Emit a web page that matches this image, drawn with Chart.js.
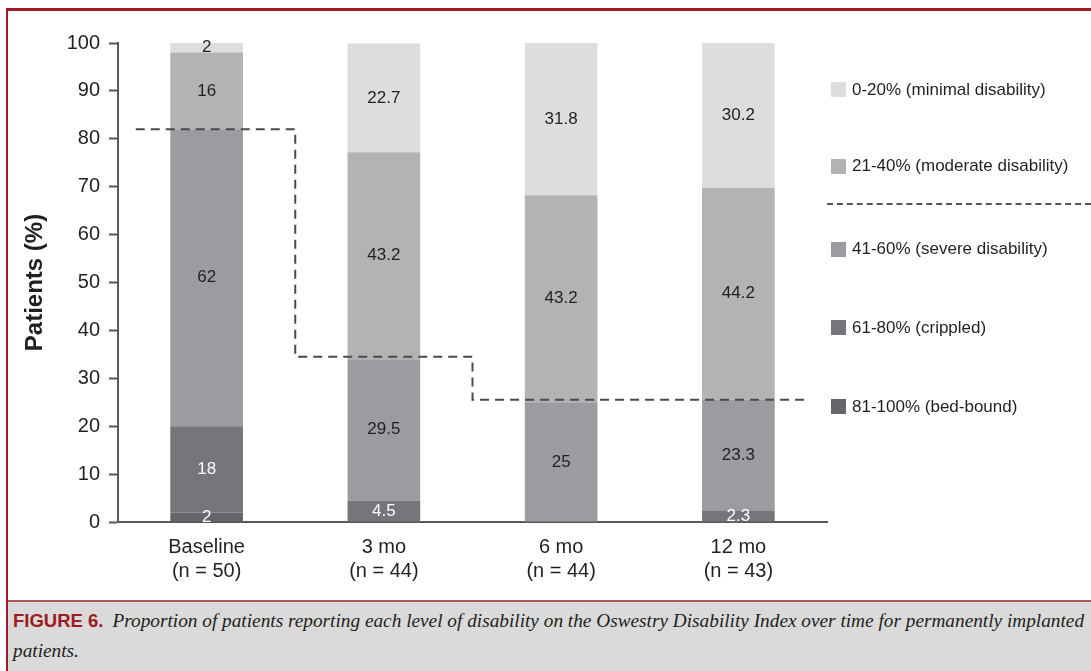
<!DOCTYPE html>
<html>
<head>
<meta charset="utf-8">
<title>Figure 6</title>
<script src="https://cdn.jsdelivr.net/npm/chart.js@4.4.0/dist/chart.umd.min.js"></script>
<style>
  body { margin: 0; background: #fff; }
  #fig { position: relative; width: 1091px; height: 671px; overflow: hidden; background: #fff; }
  #chart { position: absolute; left: 0; top: 0; }
  .rule-top { position: absolute; left: 6px; right: 0; top: 8px; height: 3px; background: #9d1c22; }
  .rule-left { position: absolute; left: 6px; top: 8px; bottom: 0; width: 2px; background: #9d1c22; }
  .legend-item { position: absolute; left: 831px; height: 15px; display: flex; align-items: center; white-space: nowrap;
    font-family: 'Liberation Sans', Arial, sans-serif; font-size: 17px; color: #231f20; }
  .legend-item .swatch { width: 15px; height: 15px; margin-right: 6px; flex: none; }
  .legend-sep { position: absolute; left: 827px; right: 0; top: 203px; height: 0; border-top: 2px dashed #555; }
  #caption { position: absolute; left: 8px; right: 0; top: 600px; bottom: 0; background: #dadada;
    border-top: 2px solid #b4555a; padding: 4px 0 0 5px; line-height: 29px; white-space: nowrap; }
  #caption .fig-no { font-family: 'Liberation Sans', Arial, sans-serif; font-weight: bold; font-size: 18.5px;
    color: #9d1c22; margin-right: 9px; }
  #caption i { font-family: 'Liberation Serif', 'DejaVu Serif', serif; font-size: 19.3px; color: #231f20; }
</style>
</head>
<body>
<div id="fig">
  <canvas id="chart" width="1091" height="600"></canvas>
  <div id="legend"></div>
  <div class="legend-sep"></div>
  <div class="rule-top"></div>
  <div class="rule-left"></div>
  <div id="caption"><span class="fig-no">FIGURE 6.</span><i>Proportion of patients reporting each level of disability on the Oswestry Disability Index over time for permanently implanted</i><br><i>patients.</i></div>
</div>

<script>
// Oswestry Disability Index categories over time

const categories = [
  ['Baseline', '(n = 50)'],
  ['3 mo', '(n = 44)'],
  ['6 mo', '(n = 44)'],
  ['12 mo', '(n = 43)']
];

// % of patients per disability level (bottom to top of each bar)
const bedBound = [2, 0, 0, 0];
const crippled = [18, 4.5, 0, 2.3];
const severe = [62, 29.5, 25, 23.3];
const moderate = [16, 43.2, 43.2, 44.2];
const minimal = [2, 22.7, 31.8, 30.2];

// dashed step line: severe disability or worse
const thresholdPos = [-0.4, 0.5, 1.5, 3.4];
const thresholdVal = [82, 34.5, 25.5, 25.5];

const yTicks = { min: 0, max: 100, step: 10 };

const FONT = "'Liberation Sans', Arial, sans-serif";
const TEXT = '#231f20';
const AXIS = '#58595b';

const series = [
  { label: '81-100% (bed-bound)', data: bedBound, color: '#646568', text: '#ffffff' },
  { label: '61-80% (crippled)', data: crippled, color: '#757679', text: '#ffffff' },
  { label: '41-60% (severe disability)', data: severe, color: '#9b9c9f', text: TEXT },
  { label: '21-40% (moderate disability)', data: moderate, color: '#b2b3b5', text: TEXT },
  { label: '0-20% (minimal disability)', data: minimal, color: '#dcdddf', text: TEXT }
];

// value labels in the middle of each segment
const segmentLabels = {
  id: 'segmentLabels',
  afterDatasetsDraw(chart) {
    const ctx = chart.ctx;
    ctx.save();
    ctx.font = '17px ' + FONT;
    ctx.textAlign = 'center';
    ctx.textBaseline = 'middle';
    chart.data.datasets.forEach((ds, i) => {
      if (ds.type === 'line') return;
      const meta = chart.getDatasetMeta(i);
      meta.data.forEach((bar, j) => {
        const v = ds.data[j];
        if (!v) return;
        ctx.fillStyle = ds.labelColor;
        ctx.fillText(String(v), bar.x, (bar.y + bar.base) / 2);
      });
    });
    ctx.restore();
  }
};

const datasets = series.map(s => ({
  label: s.label,
  data: s.data,
  backgroundColor: s.color,
  labelColor: s.text,
  borderWidth: 0,
  grouped: false,
  categoryPercentage: 1,
  barPercentage: 0.41,
  order: 1
}));

datasets.push({
  type: 'line',
  label: 'threshold',
  xAxisID: 'x2',
  yAxisID: 'y',
  stack: 'threshold',
  data: thresholdPos.map((x, i) => ({ x: x, y: thresholdVal[i] })),
  borderColor: '#4a4a4c',
  borderWidth: 2,
  borderDash: [9, 6],
  pointRadius: 0,
  stepped: 'before',
  fill: false,
  order: 0
});

new Chart(document.getElementById('chart'), {
  type: 'bar',
  data: { labels: categories, datasets: datasets },
  options: {
    responsive: false,
    animation: false,
    devicePixelRatio: 1,
    layout: { padding: { top: 43, right: 264, bottom: 0, left: 0 } },
    plugins: {
      legend: { display: false },
      tooltip: { enabled: false }
    },
    scales: {
      x: {
        stacked: true,
        grid: { display: false, drawTicks: false },
        border: { display: true, color: AXIS, width: 2 },
        ticks: { color: TEXT, font: { family: FONT, size: 20 }, padding: 13 },
        afterFit(scale) { scale.height = 78; }
      },
      x2: {
        type: 'linear', min: -0.5, max: 3.5, display: false,
        offset: false, grid: { offset: false }
      },
      y: {
        stacked: true,
        min: yTicks.min,
        max: yTicks.max,
        ticks: { stepSize: yTicks.step, color: TEXT, font: { family: FONT, size: 20 }, padding: 9 },
        grid: { drawOnChartArea: false, tickLength: 9, tickWidth: 2, tickColor: AXIS },
        border: { color: AXIS, width: 2 },
        title: {
          display: true,
          text: 'Patients (%)',
          color: TEXT,
          font: { family: FONT, size: 24, weight: 'bold' },
          padding: { top: 21, bottom: 0 }
        },
        afterFit(scale) { scale.width = 118; }
      }
    }
  },
  plugins: [segmentLabels]
});

// legend, top entry first
const legendTop = [89.5, 166, 249, 327.5, 406.5];
const legendEl = document.getElementById('legend');
series.slice().reverse().forEach((s, i) => {
  const item = document.createElement('div');
  item.className = 'legend-item';
  item.style.top = (legendTop[i] - 7.5) + 'px';
  item.innerHTML = '<span class="swatch" style="background:' + s.color + '"></span>' + s.label;
  legendEl.appendChild(item);
});
</script>
</body>
</html>
